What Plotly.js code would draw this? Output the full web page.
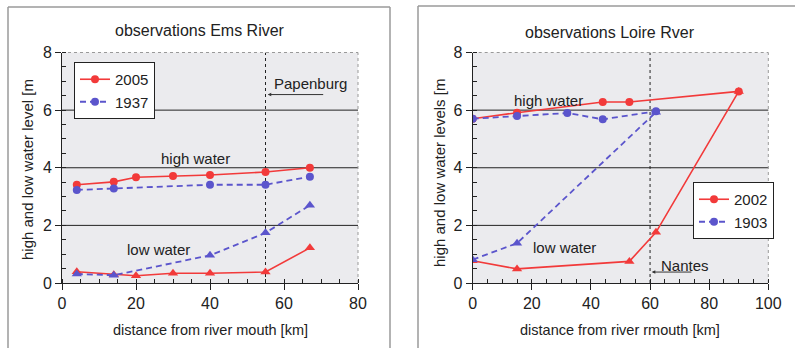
<!DOCTYPE html>
<html>
<head>
<meta charset="utf-8">
<script src="https://cdn.plot.ly/plotly-3.0.1.min.js"></script>
<style>html,body{margin:0;padding:0;background:#fff;}#chart{width:795px;height:348px;}</style>
</head>
<body>
<div id="chart"></div>
<script>
// Ems River
const emsX2005 = [4, 14, 20, 30, 40, 55, 67];
const emsHigh2005 = [3.41, 3.51, 3.67, 3.71, 3.75, 3.85, 4.0];
const emsLow2005 = [0.39, 0.29, 0.25, 0.34, 0.34, 0.38, 1.22];
const emsX1937 = [4, 14, 40, 55, 67];
const emsHigh1937 = [3.23, 3.28, 3.41, 3.41, 3.69];
const emsLow1937 = [0.31, 0.27, 0.96, 1.74, 2.70];
// Loire River
const loireHighX2002 = [0, 15, 44, 53, 90];
const loireHigh2002 = [5.7, 5.91, 6.28, 6.28, 6.65];
const loireLowX2002 = [0, 15, 53, 62, 90];
const loireLow2002 = [0.77, 0.49, 0.75, 1.76, 6.65];
const loireHighX1903 = [0, 15, 32, 44, 62];
const loireHigh1903 = [5.7, 5.8, 5.9, 5.68, 5.96];
const loireLowX1903 = [0, 15, 62];
const loireLow1903 = [0.81, 1.38, 5.93];

const RED = '#f23a3a', BLUE = '#5b55cc';
const W = 795, H = 348;
const px = v => v / W, py = v => 1 - v / H;

function tr(x, y, color, dash, sym, xa, ya, name, legend, show) {
  return {
    x: x, y: y, type: 'scatter', mode: 'lines+markers',
    line: {color: color, width: dash === 'solid' ? 1.6 : 1.8, dash: dash},
    marker: {color: color, symbol: sym, size: sym === 'circle' ? 8 : 9},
    xaxis: xa, yaxis: ya, name: name, showlegend: show, legend: legend,
    hoverinfo: 'x+y'
  };
}

const data = [
  tr(emsX2005, emsHigh2005, RED, 'solid', 'circle', 'x', 'y', '2005', 'legend', true),
  tr(emsX1937, emsHigh1937, BLUE, '6px,4px', 'circle', 'x', 'y', '1937', 'legend', true),
  tr(emsX2005, emsLow2005, RED, 'solid', 'triangle-up', 'x', 'y', '2005 low', 'legend', false),
  tr(emsX1937, emsLow1937, BLUE, '6px,4px', 'triangle-up', 'x', 'y', '1937 low', 'legend', false),
  tr(loireHighX2002, loireHigh2002, RED, 'solid', 'circle', 'x2', 'y2', '2002', 'legend2', true),
  tr(loireHighX1903, loireHigh1903, BLUE, '6px,4px', 'circle', 'x2', 'y2', '1903', 'legend2', true),
  tr(loireLowX2002, loireLow2002, RED, 'solid', 'triangle-up', 'x2', 'y2', '2002 low', 'legend2', false),
  tr(loireLowX1903, loireLow1903, BLUE, '6px,4px', 'triangle-up', 'x2', 'y2', '1903 low', 'legend2', false)
];

const FONT = 'Liberation Sans, Arial, sans-serif';
const tickFont = {family: FONT, size: 16, color: '#222'};

function xax(domain, range, dtick, anchor) {
  return {
    domain: domain, range: range, dtick: dtick, anchor: anchor,
    showgrid: false, zeroline: false, showline: true, linecolor: '#222', linewidth: 1,
    ticks: 'outside', ticklen: 6, tickcolor: '#222', tickfont: tickFont,
    minor: {dtick: 5, ticks: 'inside', ticklen: 4, tickcolor: '#222', showgrid: false},
    fixedrange: true
  };
}
function yax(domain, anchor) {
  return {
    domain: domain, range: [0, 8], dtick: 2, anchor: anchor,
    showgrid: false, zeroline: false, showline: true, linecolor: '#222', linewidth: 1,
    ticks: 'outside', ticklen: 6, tickcolor: '#222', tickfont: tickFont,
    minor: {dtick: 0.5, ticks: 'inside', ticklen: 4, tickcolor: '#222', showgrid: false},
    fixedrange: true
  };
}

const yDom = [py(283), py(52.5)];
const shapes = [];
// panel frames
const frame = {color: '#9a9a9a', width: 1.5};
shapes.push({type: 'line', xref: 'paper', yref: 'paper', x0: px(8), x1: px(8), y0: 0, y1: py(7), line: frame});
shapes.push({type: 'line', xref: 'paper', yref: 'paper', x0: px(8), x1: px(390), y0: py(7), y1: py(7), line: frame});
shapes.push({type: 'line', xref: 'paper', yref: 'paper', x0: px(390), x1: px(390), y0: 0, y1: py(7), line: frame});
shapes.push({type: 'line', xref: 'paper', yref: 'paper', x0: px(418), x1: px(418), y0: 0, y1: py(6), line: frame});
shapes.push({type: 'line', xref: 'paper', yref: 'paper', x0: px(418), x1: 1, y0: py(6), y1: py(6), line: frame});
// gridlines and borders for each subplot
[['x', 'y'], ['x2', 'y2']].forEach(([xa, ya]) => {
  [2, 4, 6].forEach(v => shapes.push({type: 'line', xref: xa + ' domain', yref: ya, x0: 0, x1: 1, y0: v, y1: v, line: {color: '#222', width: 1}, layer: 'below'}));
  shapes.push({type: 'line', xref: xa + ' domain', yref: ya + ' domain', x0: 0, x1: 1, y0: 1, y1: 1, line: {color: '#999', width: 1, dash: 'dot'}, layer: 'below'});
  shapes.push({type: 'line', xref: xa + ' domain', yref: ya + ' domain', x0: 1, x1: 1, y0: 0, y1: 1, line: {color: '#999', width: 1, dash: 'dot'}, layer: 'below'});
});
// location markers
shapes.push({type: 'line', xref: 'x', yref: 'y', x0: 55, x1: 55, y0: 0, y1: 8, line: {color: '#222', width: 1, dash: 'dot'}, layer: 'below'});
shapes.push({type: 'line', xref: 'x2', yref: 'y2', x0: 60, x1: 60, y0: 0, y1: 8, line: {color: '#222', width: 1, dash: 'dot'}, layer: 'below'});

const txt = size => ({family: FONT, size: size, color: '#222'});
function pa(text, x, y, size, extra) {
  return Object.assign({text: text, xref: 'paper', yref: 'paper', x: px(x), y: py(y),
    xanchor: 'center', yanchor: 'middle', showarrow: false, font: txt(size)}, extra || {});
}
function da(text, xa, ya, x, y, extra) {
  return Object.assign({text: text, xref: xa, yref: ya, x: x, y: y,
    xanchor: 'center', yanchor: 'middle', showarrow: false, font: txt(15)}, extra || {});
}
const annotations = [
  pa('observations Ems River', 200, 31, 16),
  pa('observations Loire Rver', 610, 32, 16),
  pa('distance from river mouth [km]', 210, 330, 14.5),
  pa('distance from river rmouth [km]', 620, 330, 14.5),
  pa('high and low water level [m', 27, 170, 15, {textangle: -90}),
  pa('high and low water levels [m', 439, 173, 15, {textangle: -90}),
  da('high water', 'x', 'y', 36, 4.33),
  da('low water', 'x', 'y', 26, 1.18),
  da('Papenburg', 'x', 'y', 56.8, 6.92, {xanchor: 'left'}),
  {text: '', xref: 'x', yref: 'y', x: 55.6, y: 6.54, ax: 71, ay: 6.54, axref: 'x', ayref: 'y', showarrow: true, arrowhead: 2, arrowsize: 0.7, arrowwidth: 1, arrowcolor: '#333'},
  da('high water', 'x2', 'y2', 25.5, 6.32),
  da('low water', 'x2', 'y2', 31, 1.22),
  da('Nantes', 'x2', 'y2', 63, 0.6, {xanchor: 'left'}),
  {text: '', xref: 'x2', yref: 'y2', x: 60.6, y: 0.38, ax: 74.5, ay: 0.38, axref: 'x2', ayref: 'y2', showarrow: true, arrowhead: 2, arrowsize: 0.7, arrowwidth: 1, arrowcolor: '#333'}
];

const legendBase = {
  bgcolor: '#ffffff', bordercolor: '#222', borderwidth: 1,
  font: {family: FONT, size: 15, color: '#222'},
  xanchor: 'left', yanchor: 'top', tracegroupgap: 0, itemwidth: 30
};

const layout = {
  width: W, height: H,
  margin: {l: 0, r: 0, t: 0, b: 0},
  paper_bgcolor: '#ffffff', plot_bgcolor: '#ebebee',
  font: {family: FONT, size: 14, color: '#222'},
  xaxis: xax([px(62), px(358)], [0, 80], 20, 'y'),
  yaxis: yax(yDom, 'x'),
  xaxis2: xax([px(472.7), px(768.3)], [0, 100], 20, 'y2'),
  yaxis2: yax(yDom, 'x2'),
  legend: Object.assign({}, legendBase, {x: px(74), y: py(62)}),
  legend2: Object.assign({}, legendBase, {x: px(693), y: py(182)}),
  shapes: shapes,
  annotations: annotations,
  hovermode: false
};

Plotly.newPlot('chart', data, layout, {displayModeBar: false, staticPlot: true});
</script>
</body>
</html>
